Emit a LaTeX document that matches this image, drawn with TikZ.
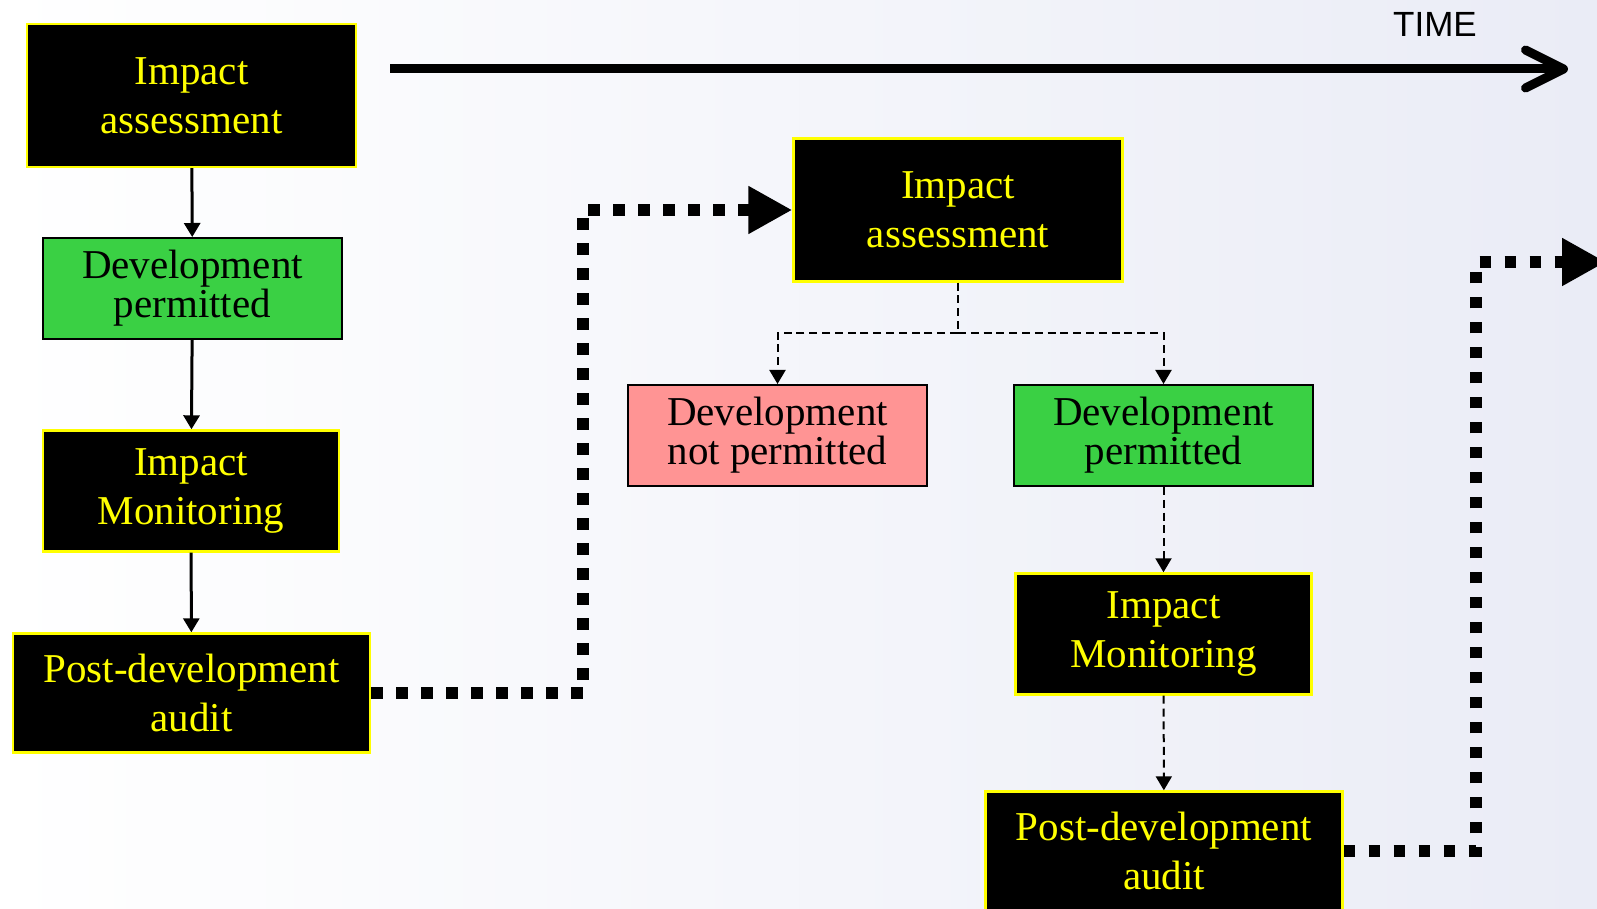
\documentclass[tikz,border=0pt]{standalone}
\usepackage{fontspec}
\setmainfont{Liberation Serif}
\setsansfont{Liberation Sans}
\usetikzlibrary{arrows.meta}

\definecolor{boxyellow}{RGB}{255,255,0}
\definecolor{okgreen}{RGB}{58,208,68}
\definecolor{refused}{RGB}{255,148,148}
\definecolor{fern}{RGB}{234,236,246}

\begin{document}
\begin{tikzpicture}[x=0.5pt,y=-0.5pt,
    stage/.style={draw=boxyellow,fill=black,text=boxyellow,line width=1.2pt,
      inner sep=0pt,align=center,font=\fontsize{20.5pt}{24.5pt}\selectfont},
    verdict/.style={draw=black,line width=1pt,inner sep=0pt,align=center,
      minimum width=149.5pt,minimum height=50.5pt,
      font=\fontsize{20.5pt}{19.5pt}\selectfont},
    assess/.style={stage,minimum width=164.5pt,minimum height=71.5pt},
    monitor/.style={stage,minimum width=148pt,minimum height=60.5pt},
    audit/.style={stage,minimum width=178.5pt,minimum height=59.5pt},
    flow/.style={line width=1.5pt,-{Triangle[length=7pt,width=8pt]}},
    maybe/.style={line width=1pt,dash pattern=on 4pt off 2.4pt,
      -{Triangle[length=7pt,width=8pt]}},
    nextround/.style={line width=6pt,dash pattern=on 5.8pt off 6.7pt,
      -{Triangle[length=22pt,width=22.5pt]}}]
  \def\W{1597}
  \def\H{909}
  \useasboundingbox (0,0) rectangle (\W,\H);
  \clip (0,0) rectangle (\W,\H);
  \shade[left color=white,right color=fern] (0,0) rectangle (\W,\H);

  % time axis
  \coordinate (t0) at (390,69);
  \coordinate (t1) at (1568,69);
  \draw[line width=4.5pt,-{Straight Barb[length=19pt,width=19pt,round]}] (t0) -- (t1);
  \node[font=\sffamily\fontsize{17.5pt}{20pt}\selectfont] (time) at (1435,24) {TIME};

  % first round
  \node[assess] (ia1) at (191.5,95.5) {Impact\\assessment};
  \node[verdict,fill=okgreen] (dp1) at (192.5,288.5) {Development\\permitted};
  \node[monitor] (im1) at (191,491) {Impact\\Monitoring};
  \node[audit] (pda1) at (191.5,693) {Post-development\\audit};
  \draw[flow] (ia1) -- (dp1);
  \draw[flow] (dp1) -- (im1);
  \draw[flow] (im1) -- (pda1);

  % second round
  \node[assess] (ia2) at (958,210) {Impact\\assessment};
  \node[verdict,fill=refused] (dnp) at (777.5,435.5) {Development\\not permitted};
  \node[verdict,fill=okgreen] (dp2) at (1163.5,435.5) {Development\\permitted};
  \node[monitor] (im2) at (1163.5,634) {Impact\\Monitoring};
  \node[audit] (pda2) at (1164,851) {Post-development\\audit};
  \coordinate (split) at (958,333);
  \draw[line width=1pt,dash pattern=on 4pt off 2.4pt] (ia2.south) -- (split);
  \draw[maybe] (split) -| (dnp.north);
  \draw[maybe] (split) -| (dp2.north);
  \draw[maybe] (dp2) -- (im2);
  \draw[maybe] (im2) -- (pda2);

  % feedback into the next round
  \coordinate (c1) at (583,0);
  \coordinate (c2) at (1476,0);
  \coordinate (out) at (1606,262);
  \draw[nextround] (pda1.east) -- (pda1.east -| c1) |- (ia2.west);
  \draw[nextround] (pda2.east) -- (pda2.east -| c2) |- (out);
\end{tikzpicture}
\end{document}
